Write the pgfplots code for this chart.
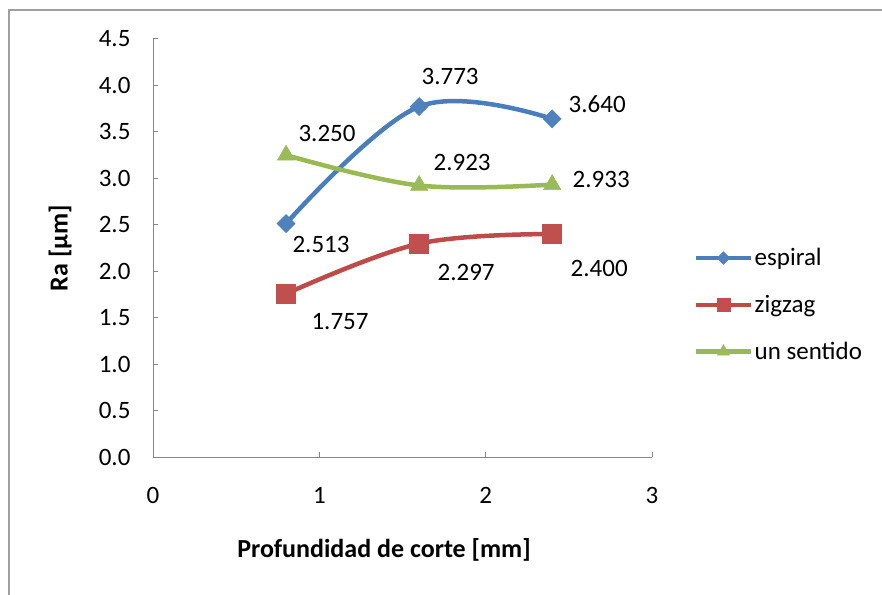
\documentclass[border=0pt]{standalone}
\usepackage{pgfplots}
\pgfplotsset{compat=1.18}
\usepackage{fontspec}
\setmainfont{Carlito}
\definecolor{cblue}{HTML}{4A7EBB}
\definecolor{cbluem}{HTML}{4F81BD}
\definecolor{cred}{HTML}{BE4B48}
\definecolor{credm}{HTML}{C0504D}
\definecolor{cgreen}{HTML}{98B954}
\definecolor{cgreenm}{HTML}{9BBB59}
\definecolor{axgray}{HTML}{868686}
\begin{document}
\begin{tikzpicture}[x=1pt,y=1pt]
\useasboundingbox (0,0) rectangle (882,594);
\draw[gray!75, line width=1.5pt] (9,-2) -- (9,584) -- (884,584);
\begin{axis}[
  at={(153pt,137pt)}, anchor=south west,
  scale only axis, width=499pt, height=418pt,
  xmin=0, xmax=3, ymin=0, ymax=4.5,
  axis x line=bottom, axis y line=left,
  axis line style={-, axgray, line width=1pt},
  tick style={axgray, line width=1pt},
  tick align=inside, major tick length=5pt,
  xtick={0,1,2,3}, ytick={0,0.5,...,4.5},
  font=\fontsize{25}{30}\selectfont,
  yticklabel style={/pgf/number format/.cd, fixed, fixed zerofill, precision=1, /tikz/.cd, xshift=-19pt},
  xticklabel style={yshift=-27pt},
  /pgf/number format/assume math mode=true,
  xlabel={\textbf{Profundidad de corte [mm]}},
  ylabel={\textbf{Ra [µm]}},
  xlabel style={at={(axis description cs:0.463,-0.222)}, anchor=center, font=\fontsize{26}{30}\selectfont},
  ylabel style={at={(axis description cs:-0.186,0.5)}, anchor=center, font=\fontsize{26}{30}\selectfont},
  legend style={at={(axis description cs:1,0.364)}, anchor=west, xshift=42pt, draw=none, fill=none,
    font=\fontsize{25}{30}\selectfont, row sep=24pt, inner sep=0pt},
  legend cell align=left,
  legend image code/.code={\draw[mark repeat=2, mark phase=2, #1, every mark/.append style={scale=0.7}] plot coordinates {(0pt,0pt) (27pt,0pt) (54pt,0pt)};},
  clip=false,
]
\addplot[cblue, line width=4.5pt, smooth, tension=0.6, mark=square*, mark size=6.4pt,
  mark options={solid, rotate=45, fill=cbluem, draw=cbluem, line width=0.5pt}]
  coordinates {(0.8,2.513) (1.6,3.773) (2.4,3.640)};
\addlegendentry{espiral}
\addplot[cred, line width=4.5pt, smooth, tension=0.6, mark=square*, mark size=9.5pt,
  mark options={solid, fill=credm, draw=credm, line width=0.5pt}]
  coordinates {(0.8,1.757) (1.6,2.297) (2.4,2.400)};
\addlegendentry{zigzag}
\addplot[cgreen, line width=4.5pt, smooth, tension=0.6, mark=triangle*, mark size=10pt,
  mark options={solid, fill=cgreenm, draw=cgreenm, line width=0.5pt}]
  coordinates {(0.8,3.250) (1.6,2.923) (2.4,2.933)};
\addlegendentry{un sentido}
\node[xshift=35pt, yshift=-21pt] at (axis cs:0.8,2.513) {2.513};
\node[xshift=31pt, yshift=30pt] at (axis cs:1.6,3.773) {3.773};
\node[xshift=45pt, yshift=15pt] at (axis cs:2.4,3.640) {3.640};
\node[xshift=54pt, yshift=-28pt] at (axis cs:0.8,1.757) {1.757};
\node[xshift=47pt, yshift=-29pt] at (axis cs:1.6,2.297) {2.297};
\node[xshift=47pt, yshift=-34pt] at (axis cs:2.4,2.400) {2.400};
\node[xshift=41pt, yshift=22pt] at (axis cs:0.8,3.250) {3.250};
\node[xshift=43pt, yshift=23pt] at (axis cs:1.6,2.923) {2.923};
\node[xshift=49pt, yshift=5pt] at (axis cs:2.4,2.933) {2.933};
\end{axis}
\end{tikzpicture}
\end{document}
